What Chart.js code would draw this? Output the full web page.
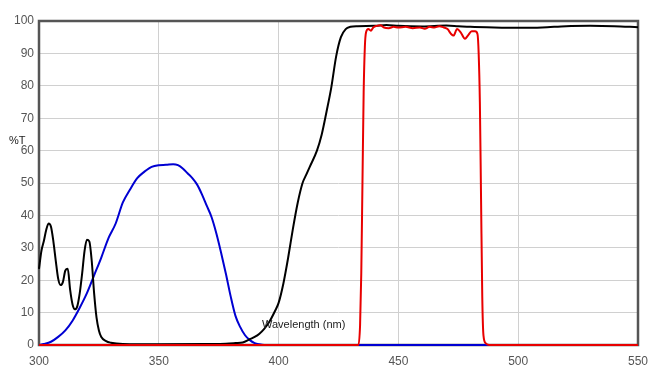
<!DOCTYPE html>
<html>
<head>
<meta charset="utf-8">
<script src="https://cdn.jsdelivr.net/npm/chart.js@4"></script>
<style>
  html, body { margin: 0; padding: 0; background: #fff; }
  #wrap { width: 670px; height: 380px; }
</style>
</head>
<body>
<div id="wrap"><canvas id="filterChart"></canvas></div>
<script>
// Transmission curves
const blackWl = [300, 301, 302, 303, 304, 305, 306, 307, 308, 309, 310, 311, 312, 313, 314, 315, 316, 317, 318, 319, 320, 321, 322, 323, 324, 325, 326, 328, 330, 335, 350, 370, 378, 382, 385, 388, 390, 392, 394, 396, 398.5, 400, 402, 404, 406, 408, 410, 411.5, 413, 416, 418, 420, 422, 424, 426, 428, 430, 433, 440, 445, 450, 460, 470, 475, 480, 490, 500, 510, 520, 530, 540, 550];
const blackT = [23.5, 29, 32, 35.5, 37.5, 36.5, 32, 26, 20.5, 18.5, 19.5, 23, 23.5, 17, 12.5, 11, 12, 16, 22, 29, 32.5, 32, 26, 16, 8.5, 4.5, 2.5, 1.2, 0.7, 0.3, 0.2, 0.3, 0.4, 0.6, 0.8, 1.8, 2.5, 3.5, 5, 7, 10.5, 13, 19, 27, 36, 44, 50, 52.5, 55, 60, 65, 72, 79.5, 89, 95, 97.5, 98.2, 98.4, 98.5, 98.8, 98.5, 98.3, 98.6, 98.4, 98.2, 98, 97.9, 98, 98.4, 98.5, 98.4, 98.1];

const blueWl = [300, 302, 305, 308, 311, 314, 317, 320, 323, 326, 329, 332, 335, 338, 341, 344, 347, 350, 353, 356, 358, 360, 362, 364, 366, 368, 370, 372, 374, 376, 378, 380, 382, 384, 386, 388, 390, 392, 394, 550];
const blueT = [0, 0.3, 1, 2.5, 4.5, 7.5, 11.5, 16, 21.5, 27, 33, 37.5, 44, 48, 51.5, 53.5, 55, 55.5, 55.6, 55.8, 55.5, 54.5, 53, 51.5, 49.5, 46.5, 43, 39.5, 34.5, 28.5, 22, 15, 9, 5.5, 3, 1.5, 0.6, 0.2, 0, 0];

const redWl = [300, 433.3, 434, 434.5, 435, 435.5, 436, 436.5, 437.5, 438.5, 439.5, 441, 442.5, 444, 446, 448, 450, 453, 456, 459, 461, 463, 465, 467, 469, 470.5, 472, 473, 474.5, 476, 477.8, 479, 480.6, 482, 483, 483.5, 484, 484.5, 485, 485.5, 486.5, 488, 550];
const redT = [0, 0, 6, 22, 50, 78, 92, 96.5, 97.5, 97, 98, 98.5, 98.7, 98, 97.8, 98.2, 98, 98.2, 97.8, 98, 97.6, 98.2, 98, 98.4, 98, 97.5, 96, 95.5, 97.5, 96.5, 94.5, 95.5, 96.8, 96.8, 96, 90, 75, 45, 15, 3, 0.5, 0, 0];

const xTicks = [300, 350, 400, 450, 500, 550];
const yTicks = [0, 10, 20, 30, 40, 50, 60, 70, 80, 90, 100];

function toPoints(xs, ys) {
    return xs.map(function (x, i) { return { x: x, y: ys[i] }; });
}

// frame round the plot area and the two free-floating labels
const framePlugin = {
    id: "frame",
    beforeDatasetsDraw: function (chart) {
        const a = chart.chartArea;
        const c = chart.ctx;
        c.save();
        c.strokeStyle = "#555";
        c.lineWidth = 2.5;
        c.strokeRect(a.left, a.top, a.right - a.left, a.bottom - a.top);
        c.restore();
    },
    afterDraw: function (chart) {
        const c = chart.ctx;
        c.save();
        c.fillStyle = "#222";
        c.font = "11px 'Liberation Sans', Arial, sans-serif";
        c.textBaseline = "middle";
        c.textAlign = "left";
        c.fillText("%T", 9, 141);
        c.fillText("Wavelength (nm)", 262, 325);
        c.restore();
    },
};

function initFilterChart() {
    const ctx = document.getElementById("filterChart");
    if (!ctx) return;

    const lineStyle = {
        borderWidth: 2,
        pointRadius: 0,
        fill: false,
        cubicInterpolationMode: "monotone",
        clip: 4,
    };

    new Chart(ctx, {
        type: "line",
        data: {
            datasets: [
                Object.assign({ label: "red", data: toPoints(redWl, redT), borderColor: "rgb(232,0,0)", order: 1 }, lineStyle),
                Object.assign({ label: "black", data: toPoints(blackWl, blackT), borderColor: "#000", order: 2 }, lineStyle),
                Object.assign({ label: "blue", data: toPoints(blueWl, blueT), borderColor: "rgb(0,0,210)", order: 3 }, lineStyle),
            ],
        },
        options: {
            responsive: true,
            maintainAspectRatio: false,
            animation: false,
            layout: { padding: { left: 0, top: 21, right: 32, bottom: 0 } },
            plugins: {
                legend: { display: false },
                tooltip: { enabled: false },
            },
            scales: {
                x: {
                    type: "linear",
                    min: xTicks[0],
                    max: xTicks[xTicks.length - 1],
                    afterBuildTicks: function (scale) {
                        scale.ticks = xTicks.map(function (v) { return { value: v }; });
                    },
                    afterFit: function (scale) { scale.height = 35; },
                    ticks: {
                        color: "#555",
                        padding: 9,
                        maxRotation: 0,
                        font: { family: "'Liberation Sans', Arial, sans-serif", size: 12 },
                    },
                    grid: { color: "#d0d0d0", drawTicks: false },
                    border: { display: false },
                },
                y: {
                    min: yTicks[0],
                    max: yTicks[yTicks.length - 1],
                    afterBuildTicks: function (scale) {
                        scale.ticks = yTicks.map(function (v) { return { value: v }; });
                    },
                    afterFit: function (scale) { scale.width = 39; },
                    ticks: {
                        color: "#555",
                        padding: 5,
                        font: { family: "'Liberation Sans', Arial, sans-serif", size: 12 },
                    },
                    grid: { color: "#d0d0d0", drawTicks: false },
                    border: { display: false },
                },
            },
        },
        plugins: [framePlugin],
    });
}

document.addEventListener("DOMContentLoaded", initFilterChart);
</script>
</body>
</html>
